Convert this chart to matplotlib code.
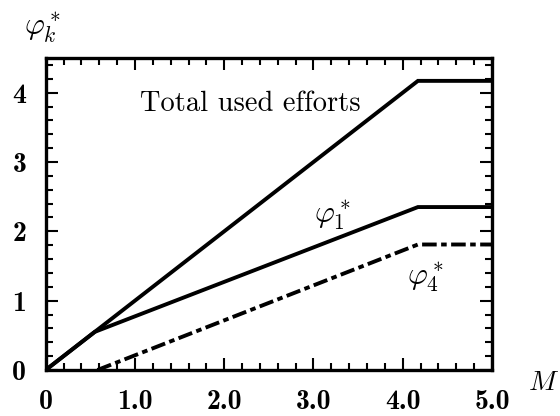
import matplotlib
matplotlib.use("Agg")
import matplotlib.pyplot as plt
from matplotlib.ticker import MultipleLocator

plt.rcParams['mathtext.fontset'] = 'cm'
plt.rcParams['font.family'] = 'serif'
plt.rcParams['font.serif'] = ['cmr10', 'DejaVu Serif']
plt.rcParams['lines.scale_dashes'] = False

# breakpoints
total_m = [0.0, 4.17, 5.0]
total_phi = [0.0, 4.17, 4.17]

phi1_m = [0.0, 0.55, 4.17, 5.0]
phi1_val = [0.0, 0.55, 2.35, 2.35]

phi4_m = [0.58, 4.17, 5.0]
phi4_val = [0.0, 1.81, 1.81]

xticks = [0, 1, 2, 3, 4, 5]
xlabels = ['0', '1.0', '2.0', '3.0', '4.0', '5.0']
yticks = [0, 1, 2, 3, 4]
ylabels = ['0', '1', '2', '3', '4']

fig = plt.figure(figsize=(5.6, 4.16), dpi=100)
ax = fig.add_axes([0.0816, 0.1106, 0.797, 0.75])

lw = 2.8
ax.plot(total_m, total_phi, color='black', lw=lw, solid_joinstyle='miter')
ax.plot(phi1_m, phi1_val, color='black', lw=lw, solid_joinstyle='miter')
ax.plot(phi4_m, phi4_val, color='black', lw=lw,
        dashes=(10.5, 3.2, 4.0, 3.2), dash_capstyle='butt')

ax.set_xlim(0, 5.0)
ax.set_ylim(0, 4.5)

ax.xaxis.set_minor_locator(MultipleLocator(0.2))
ax.yaxis.set_minor_locator(MultipleLocator(0.2))
ax.set_xticks(xticks)
ax.set_xticklabels(xlabels, fontfamily='cmb10', fontsize=20)
ax.set_yticks(yticks)
ax.set_yticklabels(ylabels, fontfamily='cmb10', fontsize=20)

ax.tick_params(which='both', direction='in', top=True, right=True, width=1.5)
ax.tick_params(which='major', length=8.5)
ax.tick_params(axis='x', which='major', pad=13.5)
ax.tick_params(axis='y', which='major', pad=14)
ax.tick_params(which='minor', length=5)
for sp in ax.spines.values():
    sp.set_linewidth(2.4)

ax.text(1.06, 3.84, 'Total used efforts', fontsize=20.5, fontfamily='cmr10',
        va='center', ha='left')
ax.text(3.21, 2.22, r'$\varphi_1^*$', fontsize=22, ha='center', va='center')
ax.text(4.25, 1.33, r'$\varphi_4^*$', fontsize=22, ha='center', va='center')

ax.text(-0.008, 1.095, r'$\varphi_k^*$', fontsize=22, transform=ax.transAxes,
        ha='center', va='center')
ax.text(1.115, -0.04, r'$M$', fontsize=20, transform=ax.transAxes,
        ha='center', va='center')

fig.savefig('out.png', dpi=100)
